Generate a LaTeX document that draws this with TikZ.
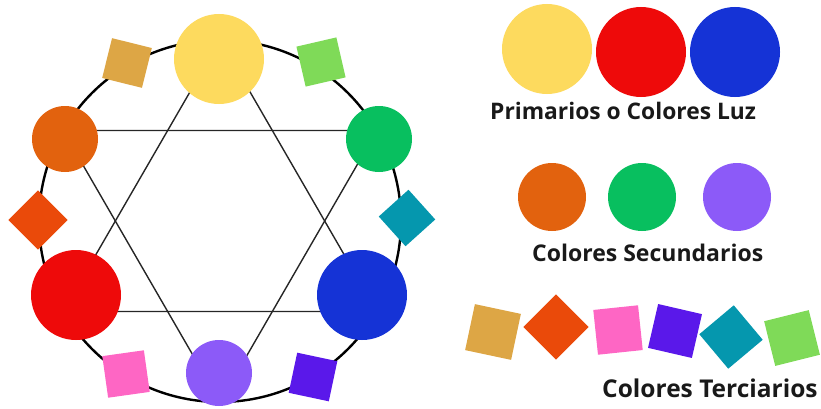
\documentclass[tikz,border=0pt]{standalone}
\usepackage{fontspec}
\setmainfont{Open Sans}
\usepackage{tikz}

\definecolor{amarillo}{HTML}{FDDA5E}
\definecolor{rojo}{HTML}{EE0A0A}
\definecolor{azul}{HTML}{1533D6}
\definecolor{naranja}{HTML}{E2620E}
\definecolor{verde}{HTML}{08BF5F}
\definecolor{morado}{HTML}{8C5AF8}
\definecolor{ocre}{HTML}{DDA645}
\definecolor{rojizo}{HTML}{EA4A0A}
\definecolor{rosa}{HTML}{FE66C4}
\definecolor{violeta}{HTML}{5A18EA}
\definecolor{turquesa}{HTML}{0597AE}
\definecolor{lima}{HTML}{7FDA58}

\begin{document}
\begin{tikzpicture}[x=1pt,y=1pt,
  dot/.style={circle,fill=#1,inner sep=0pt},
  tile/.style={rectangle,fill=#1,inner sep=0pt},
  heading/.style={anchor=base west,inner sep=0pt,text=black!90,
    font=\fontsize{#1}{#1}\selectfont\bfseries}]
\useasboundingbox (0,0) rectangle (821,408);

\coordinate (c) at (220,187);

% star points
\coordinate (t1) at (220,368);
\coordinate (t2) at (63,96.5);
\coordinate (t3) at (377,96.5);
\coordinate (s1) at (63,277.5);
\coordinate (s2) at (377,277.5);
\coordinate (s3) at (220,6);

\draw[line width=2.4pt] (c) circle (181);
\draw[line width=1.4pt,black!85] (t1) -- (t2) -- (t3) -- cycle;
\draw[line width=1.4pt,black!85] (s1) -- (s2) -- (s3) -- cycle;

% wheel
\node[dot=amarillo,minimum size=90pt] (yw) at (219,349) {};
\node[dot=verde,minimum size=66pt] (gw) at (379,269) {};
\node[dot=azul,minimum size=90pt] (bw) at (362,113) {};
\node[dot=morado,minimum size=66pt] (pw) at (219,35) {};
\node[dot=rojo,minimum size=90pt] (rw) at (76,113) {};
\node[dot=naranja,minimum size=66pt] (ow) at (65,269) {};

\node[tile=ocre,minimum size=41pt,rotate=-14] (ocw) at (127,345) {};
\node[tile=lima,minimum size=41pt,rotate=13] (lw) at (321,346) {};
\node[tile=rojizo,minimum size=42pt,rotate=45] (rjw) at (38,188) {};
\node[tile=turquesa,minimum size=40pt,rotate=42] (tw) at (407,190) {};
\node[tile=rosa,minimum size=42pt,rotate=8] (rsw) at (126,34) {};
\node[tile=violeta,minimum size=41pt,rotate=-12] (vw) at (313,31) {};

% primarios
\node[dot=amarillo,minimum size=90pt] (y1) at (547,359) {};
\node[dot=rojo,minimum size=90pt] (r1) at (641,356) {};
\node[dot=azul,minimum size=90pt] (b1) at (735,356) {};
\node[heading=22.8] (prim) at (490,289) {Primarios o Colores Luz};

% secundarios
\node[dot=naranja,minimum size=68pt] (o2) at (552,211) {};
\node[dot=verde,minimum size=68pt] (g2) at (642,211) {};
\node[dot=morado,minimum size=68pt] (p2) at (737,211) {};
\node[heading=23] (sec) at (532,147) {Colores Secundarios};

% terciarios
\node[tile=ocre,minimum size=47pt,rotate=-12] (oc3) at (493,76) {};
\node[tile=rojizo,minimum size=46pt,rotate=45] (rj3) at (556,81) {};
\node[tile=rosa,minimum size=45pt,rotate=6] (rs3) at (618,78) {};
\node[tile=violeta,minimum size=45pt,rotate=-13] (v3) at (675,77) {};
\node[tile=turquesa,minimum size=45pt,rotate=40] (t3b) at (731,71) {};
\node[tile=lima,minimum size=46pt,rotate=14] (l3) at (792,70) {};
\node[heading=24.5] (ter) at (602,11) {Colores Terciarios};
\end{tikzpicture}
\end{document}
